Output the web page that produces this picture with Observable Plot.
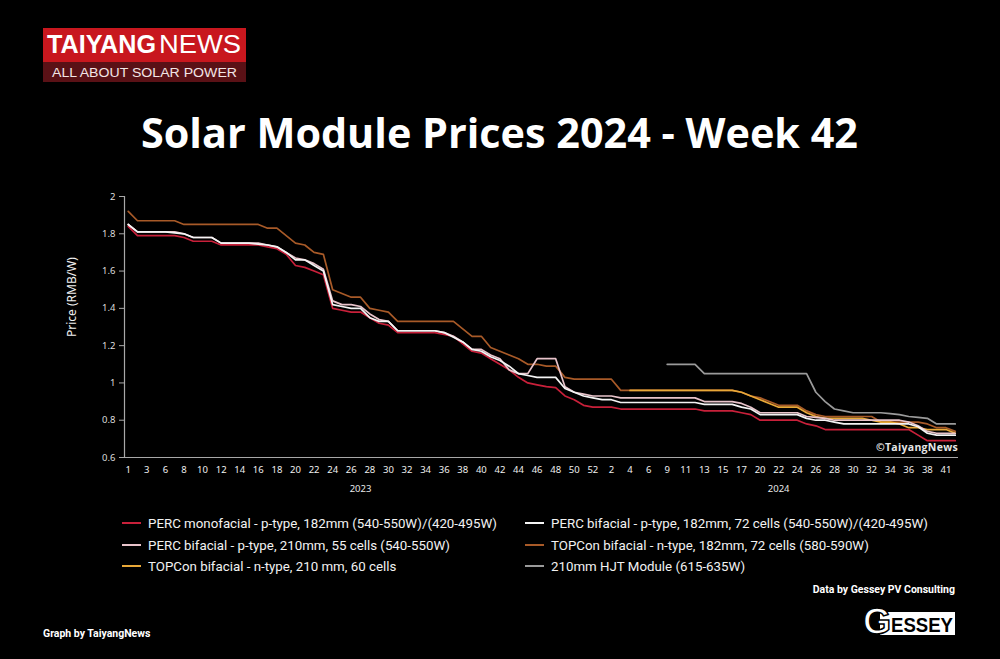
<!DOCTYPE html>
<html>
<head>
<meta charset="utf-8">
<script src="https://cdn.jsdelivr.net/npm/d3@7"></script>
<script src="https://cdn.jsdelivr.net/npm/@observablehq/plot@0.6"></script>
<style>
  html, body { margin: 0; padding: 0; background: #000; }
  body { width: 1000px; height: 659px; position: relative; overflow: hidden; font-family: "Roboto", "Noto Sans", sans-serif; color: #fff; }
  #logo { position: absolute; left: 43px; top: 28px; }
  #title { position: absolute; left: 0; top: 104px; }
  #chart { position: absolute; left: 0; top: 180px; }
  .leg { position: absolute; height: 16px; display: flex; align-items: center; font-size: 13.3px; color: #f2f2f2; white-space: nowrap; }
  .leg .sw { display: inline-block; width: 19px; height: 2px; margin-right: 7px; }
  .small { position: absolute; font-weight: 700; font-size: 10.5px; color: #fff; white-space: nowrap; }
  #copy { position: absolute; right: 42px; top: 440px; font-weight: 700; font-size: 10.5px; color: #e6e6e6; font-family: "Open Sans", sans-serif; letter-spacing: 0.3px; }
  #gessey { position: absolute; left: 860px; top: 602px; }
</style>
</head>
<body>
<svg id="logo" width="212" height="58">
  <rect x="0" y="0" width="203" height="34" fill="#c8171e"/>
  <rect x="0" y="34" width="203" height="20" fill="#5a1116"/>
  <text x="4" y="25" font-family="Liberation Sans" font-weight="700" font-size="26" fill="#fff" textLength="109" lengthAdjust="spacingAndGlyphs">TAIYANG</text>
  <text x="116" y="25" font-family="Liberation Sans" font-weight="400" font-size="26" fill="#fff" textLength="82" lengthAdjust="spacingAndGlyphs">NEWS</text>
  <text x="9" y="49" font-family="Liberation Sans" font-size="12.5" fill="#f3e6e6" textLength="185" lengthAdjust="spacingAndGlyphs">ALL ABOUT SOLAR POWER</text>
</svg>
<svg id="title" width="1000" height="60">
  <text x="141" y="44" font-family="Open Sans" font-weight="700" font-size="42" fill="#fff" textLength="717" lengthAdjust="spacingAndGlyphs">Solar Module Prices 2024 - Week 42</text>
</svg>
<div id="chart"></div>
<div id="copy">©TaiyangNews</div>
<div id="legend"></div>
<div class="small" style="right:45px; top:583px;">Data by Gessey PV Consulting</div>
<div class="small" style="left:43px; top:627px;">Graph by TaiyangNews</div>
<svg id="gessey" width="100" height="40">
  <rect x="20" y="10" width="75" height="23" fill="#fff"/>
  <text x="31" y="30" font-family="Liberation Sans Narrow, Liberation Sans" font-weight="700" font-size="21" fill="#000" textLength="62" lengthAdjust="spacingAndGlyphs">ESSEY</text>
  <text x="3" y="32" font-family="Liberation Sans" font-weight="700" font-size="36" fill="#fff" stroke="#000" stroke-width="1.5">G</text>
</svg>
<script>
// ---- categories (ISO weeks shown on the axis) ----
const years = ["2023", "2024"];
const weeks2023 = [1,2,3,5,6,7,8,9,10,11,12,13,14,15,16,17,18,19,20,21,22,23,24,25,26,27,28,29,30,31,32,33,34,35,36,37,38,39,40,41,42,43,44,45,46,47,48,49,50,51,52];
const weeks2024 = [1,2,3,4,5,6,8,9,10,11,12,13,14,15,16,17,19,20,21,22,23,24,25,26,27,28,29,30,31,32,33,34,35,36,37,38,39,41,42];
const yTicks = [0.6, 0.8, 1, 1.2, 1.4, 1.6, 1.8, 2];

// ---- series values (RMB/W) ----
const percMono2023 = [1.84,1.79,1.79,1.79,1.79,1.79,1.78,1.76,1.76,1.76, 1.74,1.74,1.74,1.74,1.74,1.73,1.72,1.69,1.63,1.62, 1.60,1.58,1.40,1.39,1.38,1.38,1.35,1.32,1.31,1.27, 1.27,1.27,1.27,1.27,1.26,1.25,1.21,1.17,1.16,1.13, 1.10,1.07,1.03,1.00,0.99,0.98,0.975,0.93,0.91,0.88,0.87];
const percMono2024 = [0.87,0.87, 0.86,0.86,0.86,0.86,0.86,0.86,0.86,0.86,0.86, 0.85,0.85,0.85,0.85, 0.84,0.83, 0.80,0.80,0.80,0.80,0.80, 0.78,0.77, 0.75,0.75,0.75,0.75,0.75,0.75,0.75,0.75,0.75,0.75, 0.72, 0.69,0.69,0.69,0.69];

const percBi182_2023 = [1.85,1.81,1.81,1.81,1.81,1.805,1.80,1.78,1.78,1.78, 1.75,1.75,1.75,1.75,1.745,1.74,1.73,1.70,1.66,1.66, 1.63,1.60,1.42,1.41,1.40,1.40,1.35,1.33,1.33,1.28, 1.28,1.28,1.28,1.28,1.27,1.245,1.22,1.18,1.17,1.14, 1.12,1.09,1.05,1.04,1.03,1.03,1.03,0.97,0.95,0.93,0.92];
const percBi182_2024 = [0.91,0.91, 0.895,0.895,0.895,0.895,0.895,0.895,0.895,0.895,0.895, 0.885,0.885,0.885,0.885, 0.87,0.86, 0.83,0.83,0.83,0.83,0.83, 0.81,0.80,0.80,0.79, 0.78,0.78,0.78,0.78,0.78,0.78,0.78,0.78, 0.765,0.73, 0.72,0.72,0.72];

const percBi210_2023 = [1.85,1.81,1.81,1.81,1.81,1.81,1.80,1.78,1.78,1.78, 1.75,1.75,1.75,1.75,1.75,1.74,1.73,1.70,1.67,1.66, 1.64,1.61,1.44,1.42,1.42,1.41,1.37,1.34,1.33,1.28, 1.28,1.28,1.28,1.28,1.27,1.25,1.22,1.18,1.18,1.15, 1.13,1.07,1.05,1.05,1.13,1.13,1.13,0.98,0.95,0.94,0.93];
const percBi210_2024 = [0.93,0.93, 0.92,0.92,0.92,0.92,0.92,0.92,0.92,0.92,0.92, 0.90,0.90,0.90,0.90, 0.89,0.87, 0.84,0.84,0.84,0.84,0.84, 0.82,0.815,0.81, 0.80,0.80,0.80,0.80,0.80,0.80,0.80,0.80, 0.79,0.77,0.74, 0.73,0.73,0.73];

const topcon182_2023 = [1.92,1.87,1.87,1.87,1.87,1.87,1.85,1.85,1.85,1.85, 1.85,1.85,1.85,1.85,1.85,1.83,1.83,1.79,1.75,1.74, 1.70,1.69,1.50,1.48,1.46,1.46,1.40,1.39,1.38,1.33, 1.33,1.33,1.33,1.33,1.33,1.33,1.29,1.25,1.25,1.19, 1.17,1.15,1.13,1.10,1.10,1.09,1.09,1.03,1.02,1.02,1.02];
const topcon182_2024 = [1.02,1.02, 0.96,0.96,0.96,0.96,0.96,0.96,0.96,0.96,0.96,0.96,0.96,0.96,0.96, 0.95,0.93,0.92,0.90, 0.88,0.88,0.88, 0.85,0.83, 0.82,0.82,0.82,0.82,0.82,0.82, 0.79,0.79,0.79,0.79,0.79, 0.78,0.76,0.76,0.74];

const topcon210_2024 = [null,null,null, 0.96,0.96,0.96,0.96,0.96,0.96,0.96,0.96,0.96,0.96,0.96,0.96, 0.95,0.93,0.91,0.89, 0.87,0.87,0.87, 0.84,0.82, 0.81,0.81,0.81,0.81,0.81, 0.80, 0.79,0.79, 0.78, 0.76,0.76, 0.75,0.75,0.75, 0.73];

const hjt2024 = [null,null,null,null,null,null,null, 1.10,1.10,1.10,1.10, 1.05,1.05,1.05,1.05,1.05,1.05,1.05,1.05,1.05,1.05,1.05,1.05, 0.95,0.90,0.86,0.85, 0.84,0.84,0.84,0.84, 0.835,0.83,0.82,0.815,0.81, 0.78,0.78,0.78];

const seriesNames = [
  "PERC monofacial - p-type, 182mm (540-550W)/(420-495W)",
  "PERC bifacial - p-type, 182mm, 72 cells (540-550W)/(420-495W)",
  "PERC bifacial - p-type, 210mm, 55 cells (540-550W)",
  "TOPCon bifacial - n-type, 182mm, 72 cells (580-590W)",
  "TOPCon bifacial - n-type, 210 mm, 60 cells",
  "210mm HJT Module (615-635W)"
];
const seriesColors = ["#c8203a", "#f4f4f4", "#e8c3ca", "#a85a28", "#e8a838", "#9a9a9a"];

// ---- build table ----
const cats = [
  ...weeks2023.map(w => ({year: years[0], week: w})),
  ...weeks2024.map(w => ({year: years[1], week: w}))
];
const n23 = weeks2023.length;
const seriesData = [
  [percMono2023, percMono2024],
  [percBi182_2023, percBi182_2024],
  [percBi210_2023, percBi210_2024],
  [topcon182_2023, topcon182_2024],
  [null, topcon210_2024],
  [null, hjt2024]
];
function rowsFor(k) {
  const [a, b] = seriesData[k];
  const rows = [];
  if (a) a.forEach((v, i) => { if (v != null) rows.push({i, v}); });
  b.forEach((v, j) => { if (v != null) rows.push({i: n23 + j, v}); });
  return rows;
}
const drawOrder = [3, 4, 5, 0, 2, 1];

const xTicks = d3.range(0, cats.length, 2);
const yearLabels = years.map(y => {
  const idx = cats.map((c, i) => c.year === y ? i : null).filter(i => i != null);
  return {year: y, i: d3.mean(idx)};
});
const xDomain = [-0.4, cats.length - 1 + 0.35];

const chart = Plot.plot({
  width: 1000,
  height: 330,
  marginLeft: 124,
  marginRight: 42,
  marginTop: 16,
  marginBottom: 53,
  style: {background: "transparent", color: "#dcdcdc", fontFamily: "Noto Sans", fontSize: "9.5px"},
  x: {domain: xDomain, axis: null},
  y: {domain: [0.6, 2], axis: null},
  marks: [
    Plot.ruleY([yTicks[0]], {stroke: "#a8a8a8", strokeWidth: 1.2}),
    Plot.ruleX([xDomain[0]], {y1: yTicks[0], y2: yTicks[yTicks.length - 1], stroke: "#a8a8a8", strokeWidth: 1.2}),
    Plot.axisY(yTicks, {tickSize: 5, tickPadding: 4, stroke: "#a8a8a8", fill: "#dcdcdc", tickFormat: d => String(d), label: null}),
    Plot.axisX(xTicks, {tickSize: 0, tickPadding: 9, fill: "#f0f0f0", tickFormat: i => String(cats[i].week), label: null}),
    Plot.text(yearLabels, {x: "i", text: "year", frameAnchor: "bottom", dy: 34, fill: "#e8e8e8", fontSize: 9.5}),
    Plot.text(["Price (RMB/W)"], {frameAnchor: "left", rotate: -90, dx: -52, dy: 10, fill: "#f0f0f0", fontSize: 12}),
    ...drawOrder.map(k => Plot.line(rowsFor(k), {x: "i", y: "v", stroke: seriesColors[k], strokeWidth: 1.7}))
  ]
});
document.getElementById("chart").appendChild(chart);

// ---- legend ----
const legend = document.getElementById("legend");
const legendPos = [
  [0, 122, 515], [1, 525, 515],
  [2, 122, 537], [3, 525, 537],
  [4, 122, 558], [5, 525, 558]
];
legendPos.forEach(([k, x, y]) => {
  const d = document.createElement("div");
  d.className = "leg";
  d.style.left = x + "px";
  d.style.top = y + "px";
  const sw = document.createElement("span");
  sw.className = "sw";
  sw.style.background = seriesColors[k];
  d.appendChild(sw);
  d.appendChild(document.createTextNode(seriesNames[k]));
  legend.appendChild(d);
});
</script>
</body>
</html>
